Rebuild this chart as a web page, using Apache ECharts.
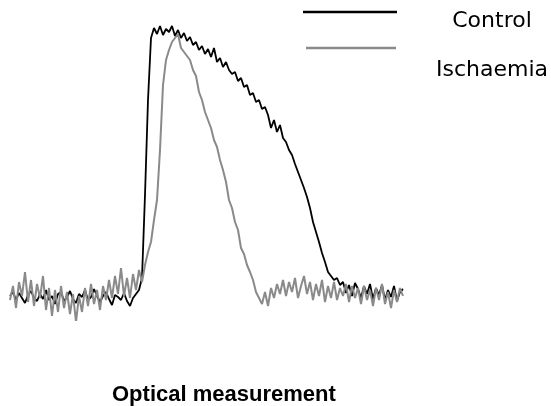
<!DOCTYPE html>
<html>
<head>
<meta charset="utf-8">
<script src="https://cdn.jsdelivr.net/npm/echarts@6/dist/echarts.min.js"></script>
<style>
  html, body { margin: 0; padding: 0; background: #fff; }
  #main { width: 551px; height: 406px; }
</style>
</head>
<body>
<div id="main"></div>
<script>
	"use strict";

	/* traces, one sample every 3 px */
	var control = [
		4, 8, 0, 7, 2, -3, 5, 9, 2, -1, 6, 1, 10, 0, 4, -4, 6, 8, -1, 3, 9, 1, -3, 6, 3, 10, 0, 3, 11, 4,
		-2, 4, 8, 1, -5, 5, 3, 0, 7, -1, -6, 2, 6,
		10,
		22, 105, 200, 262,
		272, 266, 274, 265, 271, 268, 274, 264, 270, 262, 267, 259, 263, 255, 258, 250,
		254, 246, 251, 243, 252, 238, 242, 233, 238, 230, 226, 228, 219, 222, 213, 215,
		205, 207, 198, 200, 191, 193, 185, 172, 180, 168, 175, 162, 158, 150, 145, 136,
		128, 120, 112, 103, 92, 78, 68, 58, 47, 38, 28, 24, 20, 22, 15,
		18, 7, 15, 4, 17, 11, 2, 14, 6, 16, 1, 12, 5, 15, 0, 10, 3, 14, -1, 8, 11
	];
	var ischaemia = [
		0, 14, -8, 18, 4, 28, -2, 20, -6, 16, 2, 24, -10, 12, -16, 10, -12, 14, -8, 8,
		-14, 6, -22, 4, -12, 12, -6, 16, -4, 10, -10, 14, 0, 20, 2, 24, 6, 32, 4, 22,
		2, 26, 10, 30, 18,
		35, 48, 58, 80, 100, 150, 215, 240, 250, 258, 262, 266, 252, 248, 244, 240,
		230, 224, 208, 200, 188, 180, 172, 160, 153, 140, 130, 118, 100, 92, 78, 70,
		52, 46, 35, 28, 20, 8, 2, -4, 8, -6, 12, 2, 16, 6, 20, 4, 18, 8, 22, 2,
		14, 24, 6, 18, 0, 16, 4, 20, -2, 14, 2, 18, 0, 12, 4, 16, -2, 14, 2, 12,
		-4, 14, 0, 10, -6, 12, 0, 16, -4, 8, -8, 10, -2, 12, 4
	];
	var legendNames = ['Control', 'Ischaemia'];
	var chartTitle = 'Optical measurement';

	function pairs(arr) {
		return arr.map(function(v, i) { return [i, v]; });
	}

	var chart = echarts.init(document.getElementById('main'), null, { renderer: 'canvas' });
	var option = {
		animation: false,
		backgroundColor: '#fff',
		title: {
			text: chartTitle,
			left: 112,
			top: 384,
			padding: 0,
			textStyle: {
				fontFamily: 'Liberation Sans, Arial, sans-serif',
				fontSize: 22,
				fontWeight: 'bold',
				color: '#000'
			}
		},
		grid: {
			left: 10,
			right: 145,
			top: 20,
			bottom: 86
		},
		xAxis: {
			type: 'value',
			min: 0,
			max: 132,
			show: false
		},
		yAxis: {
			type: 'value',
			min: -20,
			max: 280,
			show: false
		},
		series: [{
			name: legendNames[0],
			type: 'line',
			data: pairs(control),
			showSymbol: false,
			lineStyle: { color: '#000', width: 1.8 },
			z: 2
		}, {
			name: legendNames[1],
			type: 'line',
			data: pairs(ischaemia),
			showSymbol: false,
			lineStyle: { color: '#8a8a8a', width: 2 },
			z: 3
		}],
		graphic: [{
			type: 'line',
			shape: { x1: 303, y1: 12, x2: 397, y2: 12 },
			style: { stroke: '#000', lineWidth: 2.5 }
		}, {
			type: 'line',
			shape: { x1: 306, y1: 48, x2: 396, y2: 48 },
			style: { stroke: '#8a8a8a', lineWidth: 2.5 }
		}, {
			type: 'text',
			x: 492,
			y: 21,
			style: {
				text: legendNames[0],
				fontFamily: 'DejaVu Sans',
				fontSize: 22,
				fill: '#000',
				align: 'center',
				verticalAlign: 'middle'
			}
		}, {
			type: 'text',
			x: 492,
			y: 70,
			style: {
				text: legendNames[1],
				fontFamily: 'DejaVu Sans',
				fontSize: 22,
				fill: '#000',
				align: 'center',
				verticalAlign: 'middle'
			}
		}]
	};
	chart.setOption(option);
</script>
</body>
</html>
